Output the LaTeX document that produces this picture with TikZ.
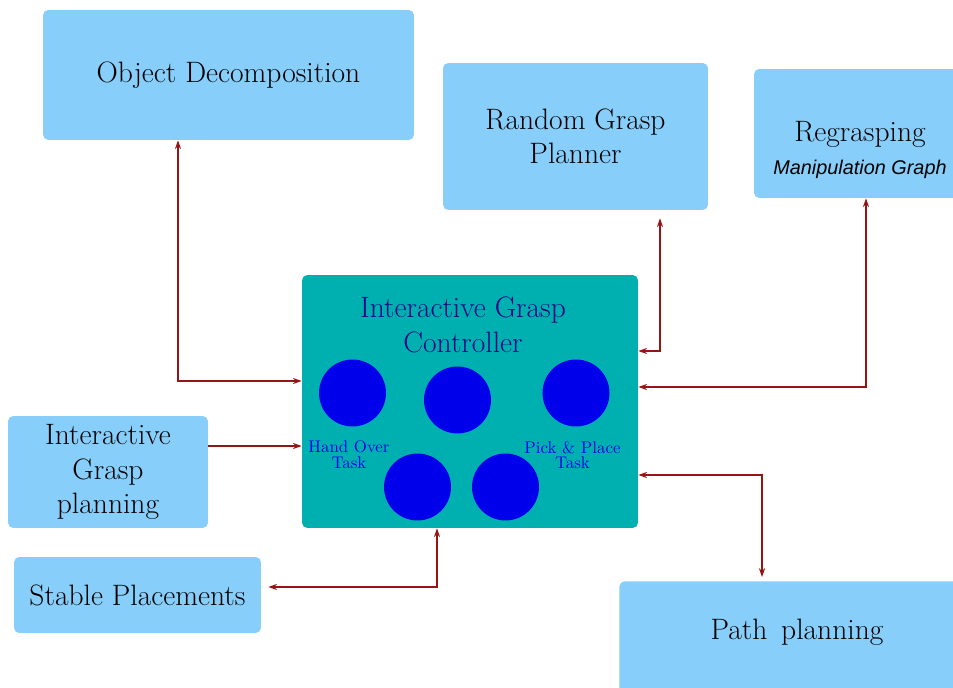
\documentclass[tikz,border=0pt]{standalone}
\usepackage{fontspec}
\newfontfamily\graphfont{Liberation Sans}
\usetikzlibrary{arrows.meta}

\definecolor{boxblue}{RGB}{135,206,250}
\definecolor{ctrlteal}{RGB}{0,176,176}
\definecolor{taskblue}{RGB}{0,0,235}
\definecolor{titlenavy}{RGB}{10,10,130}
\definecolor{linkred}{RGB}{150,20,20}

\begin{document}
\begin{tikzpicture}[x=0.02cm, y=-0.02cm, >={Stealth[length=5pt,width=3.5pt]},
		box/.style={fill=boxblue, rounded corners=3pt, inner sep=0pt, align=center,
			font=\fontsize{16.8}{19.5}\selectfont},
		ctrlbox/.style={fill=ctrlteal, rounded corners=3pt, inner sep=0pt},
		task/.style={circle, fill=taskblue, minimum size=1.34cm, inner sep=0pt},
		tasklabel/.style={text=taskblue, align=center, font=\fontsize{9.6}{9}\selectfont},
		txt/.style={align=center, font=\fontsize{16.8}{19.5}\selectfont},
		link/.style={linkred, line width=0.75pt}]
	\clip (0,0) rectangle (953,688);
	
	% planner boxes
	\node[box, minimum width=7.42cm, minimum height=2.6cm] (objdec) at (228.5,75) {Object Decomposition};
	\node[box, minimum width=5.3cm, minimum height=2.94cm] (random) at (575.5,136.5) {Random Grasp\\Planner};
	\node[box, minimum width=4.12cm, minimum height=2.58cm] (regrasp) at (857,133.5) {};
	\node[txt] (regrasptxt) at (860,150) {Regrasping\\[-1pt]{\graphfont\itshape\fontsize{11.3}{14}\selectfont Manipulation Graph}};
	\node[box, minimum width=4cm, minimum height=2.24cm] (igp) at (108,472) {Interactive\\Grasp\\planning};
	\node[box, minimum width=4.94cm, minimum height=1.52cm] (stable) at (137.5,595) {Stable Placements};
	\node[box, anchor=north west, minimum width=7.12cm, minimum height=2.6cm] (path) at (619,581) {};
	\node[txt] (pathtxt) at (797,632) {Path\, planning};
	
	% controller
	\node[ctrlbox, minimum width=6.72cm, minimum height=5.06cm] (ctrl) at (470,401.5) {};
	\node[txt, text=titlenavy] (ctrltxt) at (463,325) {Interactive Grasp\\Controller};
	\node[task] (t1) at (352.5,393) {};
	\node[task] (t2) at (457.5,400) {};
	\node[task] (t3) at (576,393) {};
	\node[task] (t4) at (417.5,487) {};
	\node[task] (t5) at (505.5,487) {};
	\node[tasklabel] (handover) at (349,455) {Hand Over\\Task};
	\node[tasklabel] (pickplace) at (572.5,455) {Pick \& Place\\Task};
	
	% links
	\draw[link, <->] (objdec.south -| 178,0) -- (178,381) -- (ctrl.west |- 0,381);
	\draw[link, ->] (igp.east |- 0,446) -- (ctrl.west |- 0,446);
	\draw[link, <->, shorten >=0.14cm] (ctrl.south -| 437,0) -- (437,587) -- (stable.east |- 0,587);
	\draw[link, <->, shorten <=0.16cm] (random.south -| 660,0) -- (660,351) -- (ctrl.east |- 0,351);
	\draw[link, <->] (regrasp.south -| 866,0) -- (866,387) -- (ctrl.east |- 0,387);
	\draw[link, <->, shorten >=0.08cm] (ctrl.east |- 0,475) -- (762,475) -- (path.north -| 762,0);
\end{tikzpicture}
\end{document}
